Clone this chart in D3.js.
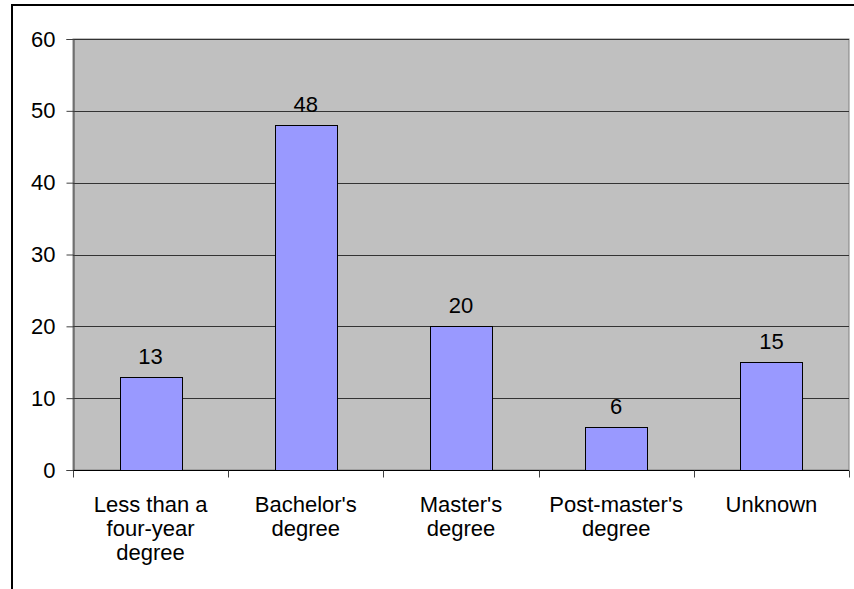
<!DOCTYPE html>
<html>
<head>
<meta charset="utf-8">
<script src="https://cdn.jsdelivr.net/npm/d3@7/dist/d3.min.js"></script>
<style>
  html, body { margin: 0; padding: 0; background: #fff; }
  svg { display: block; font-family: "Liberation Sans", Arial, sans-serif; }
</style>
</head>
<body>
<svg id="chart" width="854" height="589"></svg>
<script>
// Category labels (line breaks mark the wrapped axis labels)
const categories = [
  "Less than a\nfour-year\ndegree",
  "Bachelor's\ndegree",
  "Master's\ndegree",
  "Post-master's\ndegree",
  "Unknown"
];
const values = [13, 48, 20, 6, 15];
const yTicks = [0, 10, 20, 30, 40, 50, 60];

const svg = d3.select("#chart");
const W = 854, H = 589;
const plot = { left: 73, top: 39, right: 849, bottom: 470 };
const fontSize = "22px";

// Outer chart frame
svg.append("rect")
  .attr("x", 12).attr("y", 5)
  .attr("width", W + 20).attr("height", H + 20)
  .attr("fill", "#fff").attr("stroke", "#000").attr("stroke-width", 2);

const x = d3.scaleBand()
  .domain(categories)
  .range([plot.left, plot.right])
  .paddingInner(0).paddingOuter(0);

const y = d3.scaleLinear()
  .domain([0, 60])
  .range([plot.bottom, plot.top]);

// Plot area background
svg.append("rect")
  .attr("x", plot.left).attr("y", plot.top)
  .attr("width", plot.right - plot.left).attr("height", plot.bottom - plot.top)
  .attr("fill", "#c0c0c0").attr("stroke", "#808080").attr("stroke-width", 1);

// Horizontal gridlines
svg.append("g")
  .selectAll("line")
  .data(yTicks.filter(d => d > 0))
  .join("line")
  .attr("x1", plot.left).attr("x2", plot.right)
  .attr("y1", d => Math.round(y(d)) + 0.5).attr("y2", d => Math.round(y(d)) + 0.5)
  .attr("stroke", "#333").attr("stroke-width", 1);

// Y axis
const yAxis = svg.append("g")
  .attr("transform", `translate(${plot.left + 0.5},0)`)
  .call(d3.axisLeft(y).tickValues(yTicks).tickSize(7).tickPadding(11).tickFormat(d3.format("d")));
yAxis.select(".domain").attr("stroke", "#404040");
yAxis.selectAll(".tick line").attr("stroke", "#404040");
yAxis.selectAll(".tick text")
  .attr("fill", "#000")
  .style("font-size", fontSize)
  .style("font-family", "'Liberation Sans', Arial, sans-serif");

// Bars
const barW = x.bandwidth() * 0.4;
svg.append("g")
  .selectAll("rect")
  .data(values)
  .join("rect")
  .attr("x", (d, i) => Math.round(x(categories[i]) + (x.bandwidth() - barW) / 2) + 0.5)
  .attr("y", d => Math.round(y(d)) + 0.5)
  .attr("width", Math.round(barW))
  .attr("height", d => Math.round(y(0)) - Math.round(y(d)))
  .attr("fill", "#9999ff")
  .attr("stroke", "#000").attr("stroke-width", 1);

// Value labels
svg.append("g")
  .selectAll("text")
  .data(values)
  .join("text")
  .attr("x", (d, i) => x(categories[i]) + x.bandwidth() / 2)
  .attr("y", d => y(d) - 13)
  .attr("text-anchor", "middle")
  .style("font-size", fontSize)
  .attr("fill", "#000")
  .text(d => d);

// X axis baseline and category separators
const xAxisG = svg.append("g")
  .attr("transform", `translate(0,${Math.round(y(0)) + 0.5})`);
xAxisG.append("line")
  .attr("x1", plot.left).attr("x2", plot.right)
  .attr("stroke", "#000");
const bounds = categories.map(c => x(c)).concat([x.range()[1]]);
xAxisG.selectAll("line.sep")
  .data(bounds)
  .join("line")
  .attr("class", "sep")
  .attr("x1", d => Math.round(d) + 0.5).attr("x2", d => Math.round(d) + 0.5)
  .attr("y1", 0).attr("y2", 7)
  .attr("stroke", "#404040");

// Category labels
const lab = svg.append("g")
  .selectAll("text")
  .data(categories)
  .join("text")
  .attr("x", d => x(d) + x.bandwidth() / 2)
  .attr("y", 512)
  .attr("text-anchor", "middle")
  .style("font-size", fontSize)
  .attr("fill", "#000");
lab.selectAll("tspan")
  .data(d => d.split("\n"))
  .join("tspan")
  .attr("x", function () { return this.parentNode.getAttribute("x"); })
  .attr("dy", (d, i) => i === 0 ? 0 : 24)
  .text(d => d);
</script>
</body>
</html>
